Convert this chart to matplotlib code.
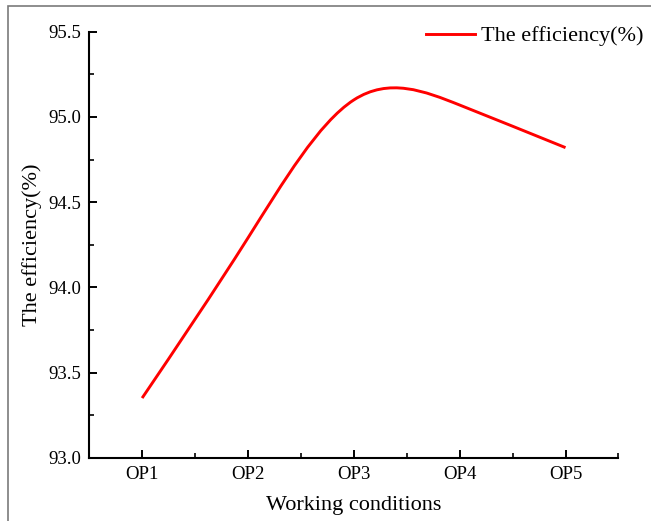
import numpy as np
import matplotlib
matplotlib.use("Agg")
import matplotlib.pyplot as plt
from matplotlib.path import Path
from matplotlib.patches import PathPatch, Rectangle
from matplotlib.lines import Line2D
from matplotlib.ticker import MultipleLocator, FormatStrFormatter

conditions = ["OP1", "OP2", "OP3", "OP4", "OP5"]
efficiency = [93.35, 94.29, 95.10, 95.07, 94.82]

plt.rcParams["font.family"] = ["Liberation Serif", "DejaVu Serif"]


def spline_path(x, y):
    """natural cubic spline through the points, as a bezier path"""
    x = np.asarray(x, float)
    y = np.asarray(y, float)
    n = len(x)
    h = np.diff(x)
    A = np.zeros((n, n))
    r = np.zeros(n)
    A[0, 0] = A[-1, -1] = 1.0
    for i in range(1, n - 1):
        A[i, i - 1] = h[i - 1]
        A[i, i] = 2 * (h[i - 1] + h[i])
        A[i, i + 1] = h[i]
        r[i] = 6 * ((y[i + 1] - y[i]) / h[i] - (y[i] - y[i - 1]) / h[i - 1])
    M = np.linalg.solve(A, r)
    verts = [(x[0], y[0])]
    codes = [Path.MOVETO]
    for i in range(n - 1):
        s = (y[i + 1] - y[i]) / h[i]
        d0 = s - h[i] * (2 * M[i] + M[i + 1]) / 6
        d1 = s + h[i] * (M[i] + 2 * M[i + 1]) / 6
        verts += [(x[i] + h[i] / 3, y[i] + d0 * h[i] / 3),
                  (x[i + 1] - h[i] / 3, y[i + 1] - d1 * h[i] / 3),
                  (x[i + 1], y[i + 1])]
        codes += [Path.CURVE4] * 3
    return Path(verts, codes)


fig = plt.figure(figsize=(6.51, 5.21), dpi=100)
ax = fig.add_axes([0.137, 0.1215, 0.813, 0.8175])

xs = np.arange(1, len(conditions) + 1)
ax.add_patch(PathPatch(spline_path(xs, efficiency), facecolor="none",
                       edgecolor="#ff0000", lw=2.1, zorder=3))

ax.set_xlim(0.5, 5.5)
ax.set_ylim(93.0, 95.5)
ax.set_xticks(xs)
ax.set_xticklabels(conditions)
ax.xaxis.set_minor_locator(MultipleLocator(1.0, offset=0.5))
ax.yaxis.set_major_locator(MultipleLocator(0.5))
ax.yaxis.set_minor_locator(MultipleLocator(0.25))
ax.yaxis.set_major_formatter(FormatStrFormatter("%.1f"))

for side in ("top", "right"):
    ax.spines[side].set_visible(False)
for side in ("left", "bottom"):
    ax.spines[side].set_linewidth(1.5)
ax.tick_params(which="major", direction="in", length=6, width=1.4,
               labelsize=13.5, pad=6)
ax.tick_params(which="minor", direction="in", length=3.5, width=1.2)

ax.set_xlabel("Working conditions", fontsize=16, labelpad=9)
ax.set_ylabel("The efficiency(%)", fontsize=16, labelpad=4)

handle = Line2D([], [], color="#ff0000", lw=2.1)
ax.legend([handle], ["The efficiency(%)"], loc="upper right", frameon=False,
          fontsize=16, handlelength=2.2, handletextpad=0.3,
          bbox_to_anchor=(1.065, 1.035), borderaxespad=0)

# grey frame around the picture
fig.patches.append(Rectangle((8 / 651, -0.05), 1.1, 1 - 6 / 521 + 0.05,
                             transform=fig.transFigure, fill=False,
                             edgecolor="#7a7a7a", lw=1.2))

fig.savefig("out.png", dpi=100)
